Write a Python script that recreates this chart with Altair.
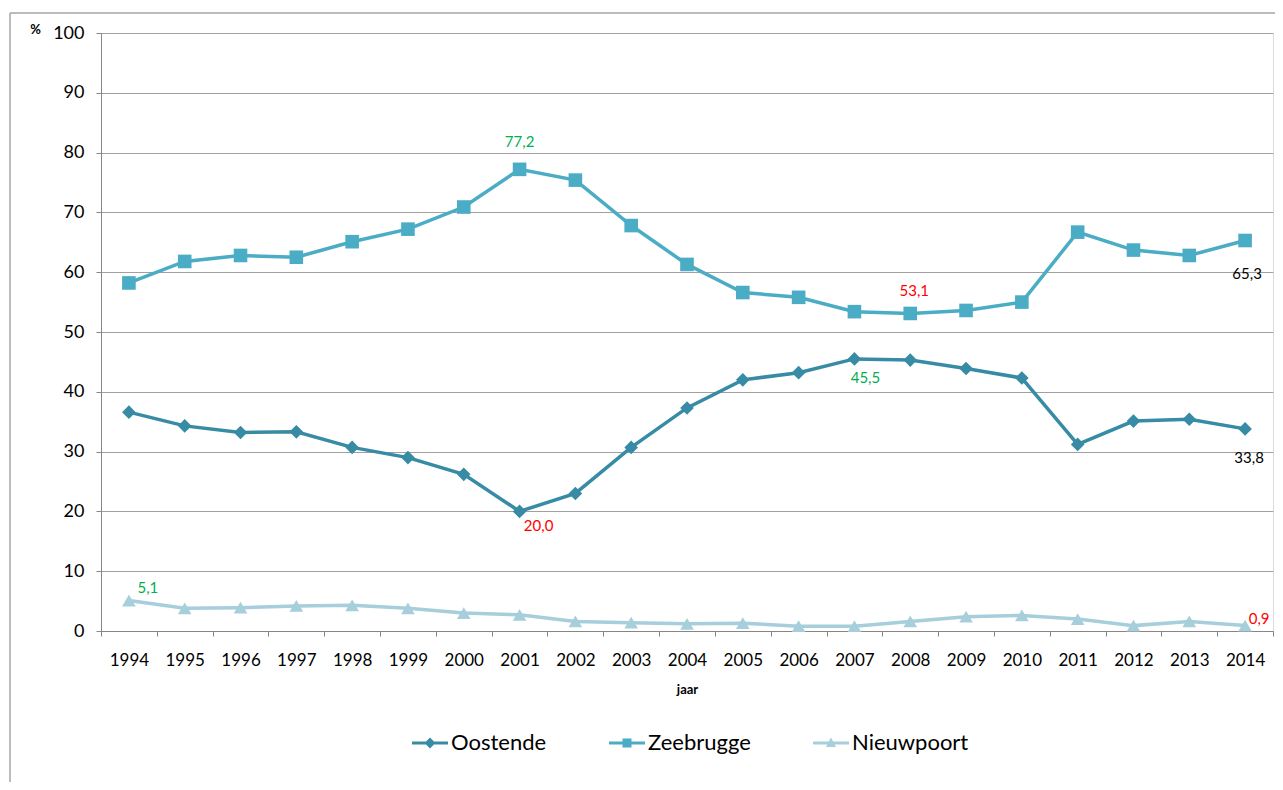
import altair as alt
import pandas as pd

years = [str(y) for y in range(1994, 2015)]
series_names = ["Oostende", "Zeebrugge", "Nieuwpoort"]
oostende = [36.6, 34.3, 33.2, 33.3, 30.7, 29.0, 26.2, 20.0, 23.0, 30.7, 37.3,
            42.0, 43.2, 45.5, 45.3, 43.9, 42.3, 31.2, 35.1, 35.4, 33.8]
zeebrugge = [58.2, 61.8, 62.8, 62.5, 65.1, 67.2, 70.9, 77.2, 75.4, 67.8, 61.3,
             56.6, 55.8, 53.4, 53.1, 53.6, 55.0, 66.7, 63.7, 62.8, 65.3]
nieuwpoort = [5.1, 3.8, 3.9, 4.2, 4.3, 3.8, 3.0, 2.7, 1.6, 1.4, 1.2,
              1.3, 0.8, 0.8, 1.6, 2.4, 2.6, 2.0, 0.9, 1.6, 0.9]

colors = ["#378ba4", "#4bacc6", "#a6cedb"]
shapes = ["diamond", "square", "triangle-up"]
legend_paths = [
    "M-1,-0.08 H-0.22 L0,-0.3 L0.22,-0.08 H1 V0.08 H0.22 L0,0.3 L-0.22,0.08 H-1 Z",
    "M-1,-0.08 H-0.25 V-0.25 H0.25 V-0.08 H1 V0.08 H0.25 V0.25 H-0.25 V0.08 H-1 Z",
    "M-1,-0.08 H-0.118 L0,-0.3 L0.118,-0.08 H1 V0.08 H0.205 L0.28,0.22 H-0.28 L-0.205,0.08 H-1 Z",
]

# highlighted data labels: series, year, colour
label_series = ["Zeebrugge", "Zeebrugge", "Zeebrugge", "Oostende", "Oostende", "Oostende", "Nieuwpoort", "Nieuwpoort"]
label_years = ["2001", "2008", "2014", "2007", "2001", "2014", "1994", "2014"]
label_colors = ["#00b050", "#ff0000", "#000000", "#00b050", "#ff0000", "#000000", "#00b050", "#ff0000"]
label_offsets = [(0, -27), (4, -22), (2, 33), (11, 19), (19, 15), (4, 29), (19, -13), (14, -7)]

FONT = "Lato"

rows = []
for name, vals in zip(series_names, [oostende, zeebrugge, nieuwpoort]):
    for yr, v in zip(years, vals):
        rows.append({"jaar": yr, "reeks": name, "waarde": v})
df = pd.DataFrame(rows)

xscale = alt.Scale(type="band", domain=years, paddingInner=0, paddingOuter=0)
yscale = alt.Scale(domain=[0, 100], nice=False)
cscale = alt.Scale(domain=series_names, range=colors)

x_axis = alt.Axis(title="jaar", labelAngle=0, tickBand="extent", tickSize=5,
                  domainColor="#868686", tickColor="#868686", grid=False,
                  labelFont=FONT, labelFontSize=17, labelColor="#000000",
                  labelPadding=24, labelBaseline="middle",
                  titleFont=FONT, titleFontSize=13, titleFontWeight="bold",
                  titleColor="#000000", titleY=58, titleBaseline="middle")
y_axis = alt.Axis(title="%", titleAngle=0, titleX=-66, titleY=-4, titleAlign="center",
                  titleBaseline="middle", titleFont=FONT, titleFontSize=13,
                  titleFontWeight="bold", titleColor="#000000",
                  values=list(range(0, 101, 10)), grid=True, gridColor="#a0a0a0",
                  gridWidth=1, domainColor="#868686", tickColor="#868686", tickSize=5,
                  labelPadding=12, labelFont=FONT, labelFontSize=18, labelColor="#000000")

X = alt.X("jaar:N", scale=xscale, axis=x_axis)
Xn = alt.X("jaar:N", scale=xscale)
Y = alt.Y("waarde:Q", scale=yscale, axis=y_axis)
Yn = alt.Y("waarde:Q", scale=yscale)

lines = alt.Chart(df).mark_line(strokeWidth=3.5).encode(
    x=X, y=Y,
    color=alt.Color("reeks:N", scale=cscale, legend=None),
    detail="reeks:N",
)

points = alt.Chart(df).mark_point(filled=True, opacity=1, size=185).encode(
    x=Xn, y=Yn,
    color=alt.Color("reeks:N", scale=cscale, legend=None),
    shape=alt.Shape("reeks:N", scale=alt.Scale(domain=series_names, range=shapes), legend=None),
)

leg = alt.Legend(orient="none", legendX=311, legendY=692, direction="horizontal", title=None,
                 symbolSize=1296, symbolStrokeWidth=0, symbolOpacity=1,
                 labelFont=FONT, labelFontSize=22, labelColor="#000000",
                 labelOffset=3, columnPadding=62)
legend_layer = alt.Chart(df).transform_filter("false").mark_point(filled=True, opacity=1).encode(
    x=Xn, y=Yn,
    color=alt.Color("reeks:N", scale=cscale, legend=leg),
    shape=alt.Shape("reeks:N", scale=alt.Scale(domain=series_names, range=legend_paths), legend=leg),
)

label_layers = []
for s, yr, col, (dx, dy) in zip(label_series, label_years, label_colors, label_offsets):
    sub = df[(df.reeks == s) & (df.jaar == yr)].copy()
    sub["tekst"] = sub["waarde"].map(lambda v: f"{v:.1f}".replace(".", ","))
    label_layers.append(
        alt.Chart(sub).mark_text(dx=dx, dy=dy, color=col, font=FONT, fontSize=15,
                                 align="center", baseline="middle").encode(
            x=Xn, y=Yn, text="tekst:N")
    )

frame_df = pd.DataFrame({"k": [0]})
frame_v = alt.Chart(frame_df).mark_rule(color="#a6a6a6", strokeWidth=1.5).encode(
    x=alt.value(-91), y=alt.value(-20), y2=alt.value(760))
frame_h = alt.Chart(frame_df).mark_rule(color="#a6a6a6", strokeWidth=1.5).encode(
    x=alt.value(-91), x2=alt.value(1200), y=alt.value(-20))

chart = alt.layer(lines, points, legend_layer, *label_layers, frame_v, frame_h).resolve_scale(
    color="independent", shape="independent"
).properties(
    width=1172, height=598,
    autosize=alt.AutoSizeParams(type="none"),
    padding={"left": 93, "top": 25, "right": 2, "bottom": 151},
).configure_view(stroke=None).configure(background="white")

chart.save("out.html", embed_options={"renderer": "svg", "actions": False})
